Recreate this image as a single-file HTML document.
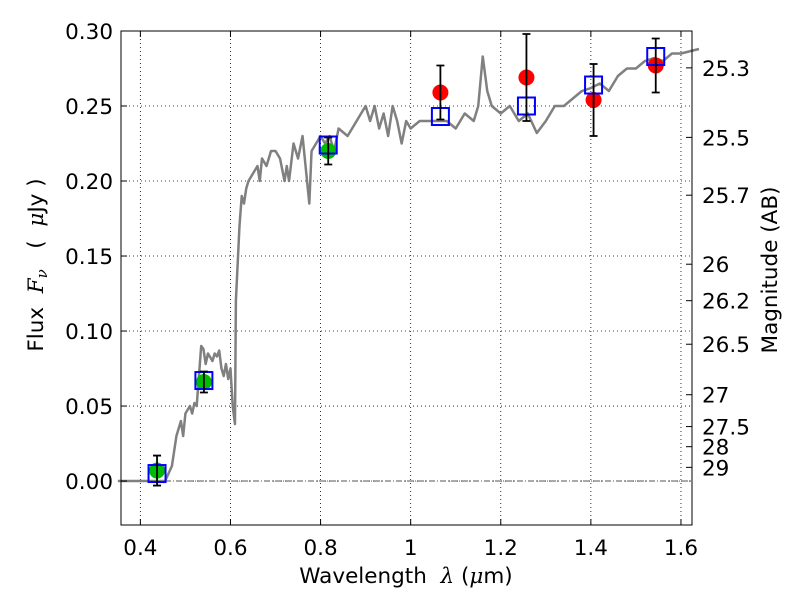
<!DOCTYPE html>
<html><head><meta charset="utf-8"><style>
body{margin:0;background:#fff;}
svg{display:block;font-family:"DejaVu Sans","Liberation Sans",sans-serif;}
text{white-space:pre;}
</style></head><body>
<svg id="chart" width="800" height="600" xml:space="preserve"></svg>
<script>
const specWave=[0.35,0.455,0.47,0.48,0.49,0.495,0.5,0.51,0.515,0.52,0.525,0.53,0.535,0.54,0.545,0.55,0.56,0.565,0.57,0.575,0.58,0.585,0.59,0.595,0.6,0.605,0.61,0.612,0.62,0.625,0.63,0.635,0.64,0.65,0.66,0.665,0.67,0.68,0.69,0.7,0.71,0.72,0.725,0.73,0.74,0.75,0.76,0.77,0.775,0.78,0.79,0.8,0.81,0.82,0.83,0.84,0.86,0.88,0.9,0.91,0.92,0.93,0.94,0.95,0.96,0.97,0.98,0.99,1.0,1.02,1.04,1.06,1.08,1.1,1.12,1.14,1.15,1.16,1.17,1.18,1.2,1.22,1.24,1.26,1.28,1.3,1.32,1.34,1.36,1.38,1.4,1.42,1.44,1.46,1.48,1.5,1.52,1.54,1.56,1.58,1.6,1.64];
const specFlux=[0,0,0.01,0.03,0.04,0.03,0.045,0.05,0.045,0.052,0.05,0.07,0.09,0.088,0.078,0.085,0.08,0.085,0.083,0.087,0.075,0.07,0.078,0.068,0.075,0.05,0.038,0.12,0.17,0.19,0.185,0.195,0.2,0.205,0.21,0.2,0.215,0.21,0.22,0.22,0.215,0.2,0.21,0.2,0.225,0.215,0.23,0.2,0.185,0.22,0.225,0.23,0.225,0.23,0.22,0.235,0.23,0.24,0.25,0.24,0.25,0.235,0.245,0.23,0.25,0.24,0.225,0.24,0.235,0.24,0.24,0.24,0.24,0.235,0.245,0.24,0.25,0.283,0.26,0.25,0.245,0.25,0.24,0.245,0.232,0.24,0.25,0.25,0.255,0.26,0.262,0.265,0.26,0.27,0.275,0.275,0.28,0.282,0.28,0.285,0.285,0.288];
const bandWave=[0.437,0.541,0.817,1.066,1.257,1.406,1.544];
const modelFlux=[0.005,0.067,0.224,0.243,0.250,0.264,0.283];
const obsFlux=[0.007,0.066,0.220,0.259,0.269,0.254,0.277];
const obsErr=[0.010,0.007,0.009,0.018,0.029,0.024,0.018];
const obsColor=['#00bb00','#00bb00','#00bb00','red','red','red','red'];
const xTicks=[0.4,0.6,0.8,1.0,1.2,1.4,1.6];
const xTickLabels=['0.4','0.6','0.8','1','1.2','1.4','1.6'];
const yTicks=[0,0.05,0.10,0.15,0.20,0.25,0.30];
const magTicks=[25.3,25.5,25.7,26,26.2,26.5,27,27.5,28,29];

const L=121,R=692,T=31,B=525,x0=0.357,x1=1.6245,y0=-0.0293,y1=0.30;
const X=v=>L+(v-x0)/(x1-x0)*(R-L);
const Y=v=>B-(v-y0)/(y1-y0)*(B-T);
const svg=document.getElementById('chart');
const NS='http://www.w3.org/2000/svg';
function mk(t,a,p){const e=document.createElementNS(NS,t);for(const k in a)e.setAttribute(k,a[k]);(p||svg).appendChild(e);return e;}

xTicks.forEach(v=>{const g=mk('line',{x1:X(v),x2:X(v),y1:T,y2:B,stroke:'#000','stroke-dasharray':'1,3','stroke-width':0.8});

});
yTicks.forEach(v=>{const g=mk('line',{x1:L,x2:R,y1:Y(v),y2:Y(v),stroke:'#000','stroke-dasharray':'1,3','stroke-width':0.8});

});
const zl=mk('line',{x1:L,x2:R,y1:Y(0),y2:Y(0),stroke:'#555','stroke-dasharray':'6,2,1,2','stroke-width':1});



const sp=mk('polyline',{points:specWave.map((w,i)=>X(w)+','+Y(specFlux[i])).join(' '),fill:'none',stroke:'#808080','stroke-width':2.5,'stroke-linejoin':'round'});



bandWave.forEach((w,i)=>{
  const c=mk('circle',{cx:X(w),cy:Y(obsFlux[i]),r:8,fill:obsColor[i]});
  
  
  const s=mk('rect',{x:X(w)-8.5,y:Y(modelFlux[i])-8.5,width:17,height:17,fill:'none',stroke:'#0000ff','stroke-width':2});
  
  
  const xa=X(w),ya=Y(obsFlux[i]-obsErr[i]),yb=Y(obsFlux[i]+obsErr[i]);
  const e=mk('path',{d:`M${xa},${ya}V${yb}M${xa-4},${ya}H${xa+4}M${xa-4},${yb}H${xa+4}`,stroke:'#000','stroke-width':1.8,fill:'none'});
  
  
});

const fr=mk('rect',{x:L,y:T,width:R-L,height:B-T,fill:'none',stroke:'#000','stroke-width':1});



xTicks.forEach((v,i)=>{
  mk('path',{d:`M${X(v)},${B}v-6M${X(v)},${T}v6`,stroke:'#000'});
  const t=mk('text',{x:X(v),y:B+30,'text-anchor':'middle','font-size':21.5});t.textContent=xTickLabels[i];
  
  
});
yTicks.forEach(v=>{
  mk('path',{d:`M${L},${Y(v)}h6`,stroke:'#000'});
  const t=mk('text',{x:L-8,y:Y(v)+8,'text-anchor':'end','font-size':21.5});t.textContent=v.toFixed(2);
  
  
});
magTicks.forEach(m=>{
  const f=Math.pow(10,(23.9-m)/2.5);
  mk('path',{d:`M${R},${Y(f)}h-6`,stroke:'#000'});
  const t=mk('text',{x:R+10,y:Y(f)+8,'font-size':21.5});t.textContent=String(m);
  
  
});

const xt=mk('text',{x:406,y:583,'text-anchor':'middle','font-size':21.5});
xt.innerHTML='Wavelength  <tspan font-style="italic" font-family="DejaVu Serif,serif">λ</tspan> (<tspan font-style="italic" font-family="DejaVu Serif,serif">μ</tspan>m)';


const yt=mk('text',{x:0,y:0,'text-anchor':'middle','font-size':21.5,transform:'translate(43,265) rotate(-90)'});
yt.innerHTML='Flux  <tspan font-style="italic" font-family="DejaVu Serif,serif">F</tspan><tspan font-style="italic" font-size="15" dy="4" font-family="DejaVu Serif,serif">ν</tspan><tspan dy="-4">   (  </tspan><tspan font-style="italic" font-family="DejaVu Serif,serif">μ</tspan>Jy )';


const rt=mk('text',{x:0,y:0,'text-anchor':'middle','font-size':21.5,transform:'translate(777,270) rotate(-90)'});
rt.textContent='Magnitude (AB)';


</script>
</body></html>
